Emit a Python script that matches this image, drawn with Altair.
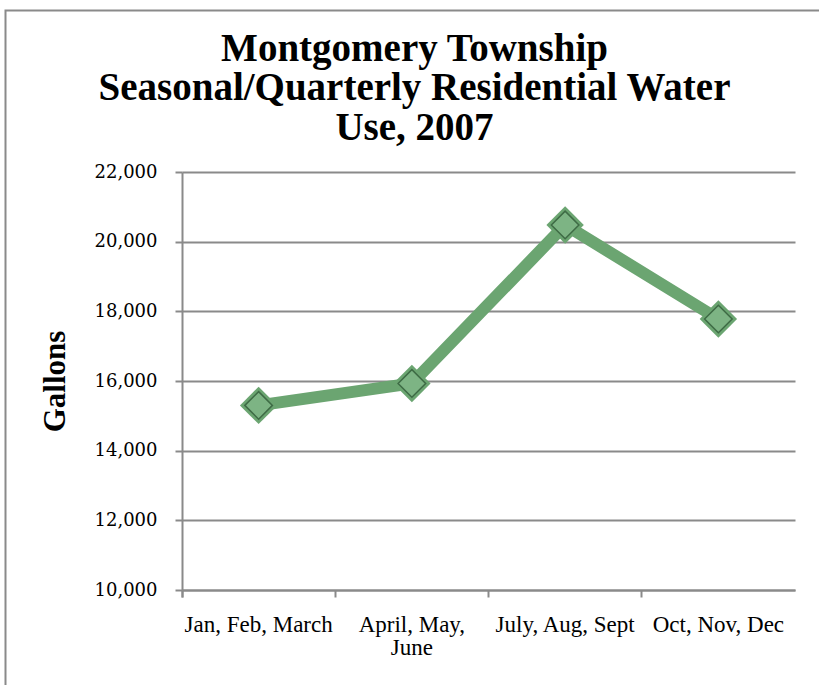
import altair as alt
import pandas as pd

# ---- data ----
quarters = ["Jan, Feb, March", "April, May, June", "July, Aug, Sept", "Oct, Nov, Dec"]
gallons = [15300, 15930, 20480, 17780]
y_ticks = [10000, 12000, 14000, 16000, 18000, 20000, 22000]
title_lines = ["Montgomery Township", "Seasonal/Quarterly Residential Water", "Use, 2007"]
y_title = "Gallons"

df = pd.DataFrame({"quarter": quarters, "gallons": gallons})

GRAY = "#8a8a8a"
LINE = "#6ba571"
INNER = "#7db484"
EDGE = "#3e6b45"

x = alt.X(
    "quarter:N",
    sort=quarters,
    scale=alt.Scale(type="band", paddingInner=0, paddingOuter=0),
    axis=alt.Axis(
        title=None,
        labelAngle=0,
        bandPosition=0,
        tickExtra=True,
        tickSize=7,
        tickWidth=2,
        tickColor=GRAY,
        domainColor=GRAY,
        domainWidth=2,
        labelFont="Liberation Serif",
        labelFontSize=23,
        labelColor="black",
        labelPadding=16,
        labelLineHeight=23,
        labelOverlap=False,
        labelLimit=300,
        labelExpr="datum.label == 'April, May, June' ? ['April, May,', 'June'] : datum.label",
        grid=False,
    ),
)

y = alt.Y(
    "gallons:Q",
    scale=alt.Scale(domain=[10000, 22000], nice=False, zero=False),
    axis=alt.Axis(
        values=y_ticks,
        format=",.0f",
        title=y_title,
        titleFont="Liberation Serif",
        titleFontSize=31,
        titleFontWeight="bold",
        titleColor="black",
        titlePadding=23,
        labelFont="DejaVu Serif",
        labelFontSize=18,
        labelColor="black",
        labelPadding=18,
        tickSize=7,
        tickWidth=2,
        tickColor=GRAY,
        domainColor=GRAY,
        domainWidth=2,
        grid=True,
        gridColor=GRAY,
        gridWidth=2,
    ),
)

base = alt.Chart(df).encode(x=x, y=y)

line = base.mark_line(color=LINE, strokeWidth=12, strokeJoin="miter")
outer = base.mark_point(shape="diamond", filled=True, size=1400, color=LINE, opacity=1)
inner = base.mark_point(
    shape="diamond", filled=True, size=760, fill=INNER, stroke=EDGE, strokeWidth=1.5, opacity=1
)

frame = alt.Chart(alt.Data(values=[{}])).mark_rect(
    fill="transparent", stroke=GRAY, strokeWidth=2
).encode(
    x=alt.value(-176.5), x2=alt.value(660), y=alt.value(-161.5), y2=alt.value(540)
)

chart = (
    alt.layer(frame, line, outer, inner)
    .properties(
        width=613,
        height=418,
        autosize=alt.AutoSizeParams(type="none"),
        padding={"left": 182, "top": 172, "right": 24, "bottom": 95},
        background="white",
        title=alt.TitleParams(
            text=title_lines,
            font="Liberation Serif",
            fontSize=39,
            fontWeight="bold",
            color="black",
            lineHeight=39.5,
            anchor="middle",
            frame="group",
            dx=-74,
            dy=164,
            offset=26,
        ),
    )
    .configure_view(stroke="transparent")
)

chart.save("out.html", embed_options={"renderer": "svg", "actions": False})
